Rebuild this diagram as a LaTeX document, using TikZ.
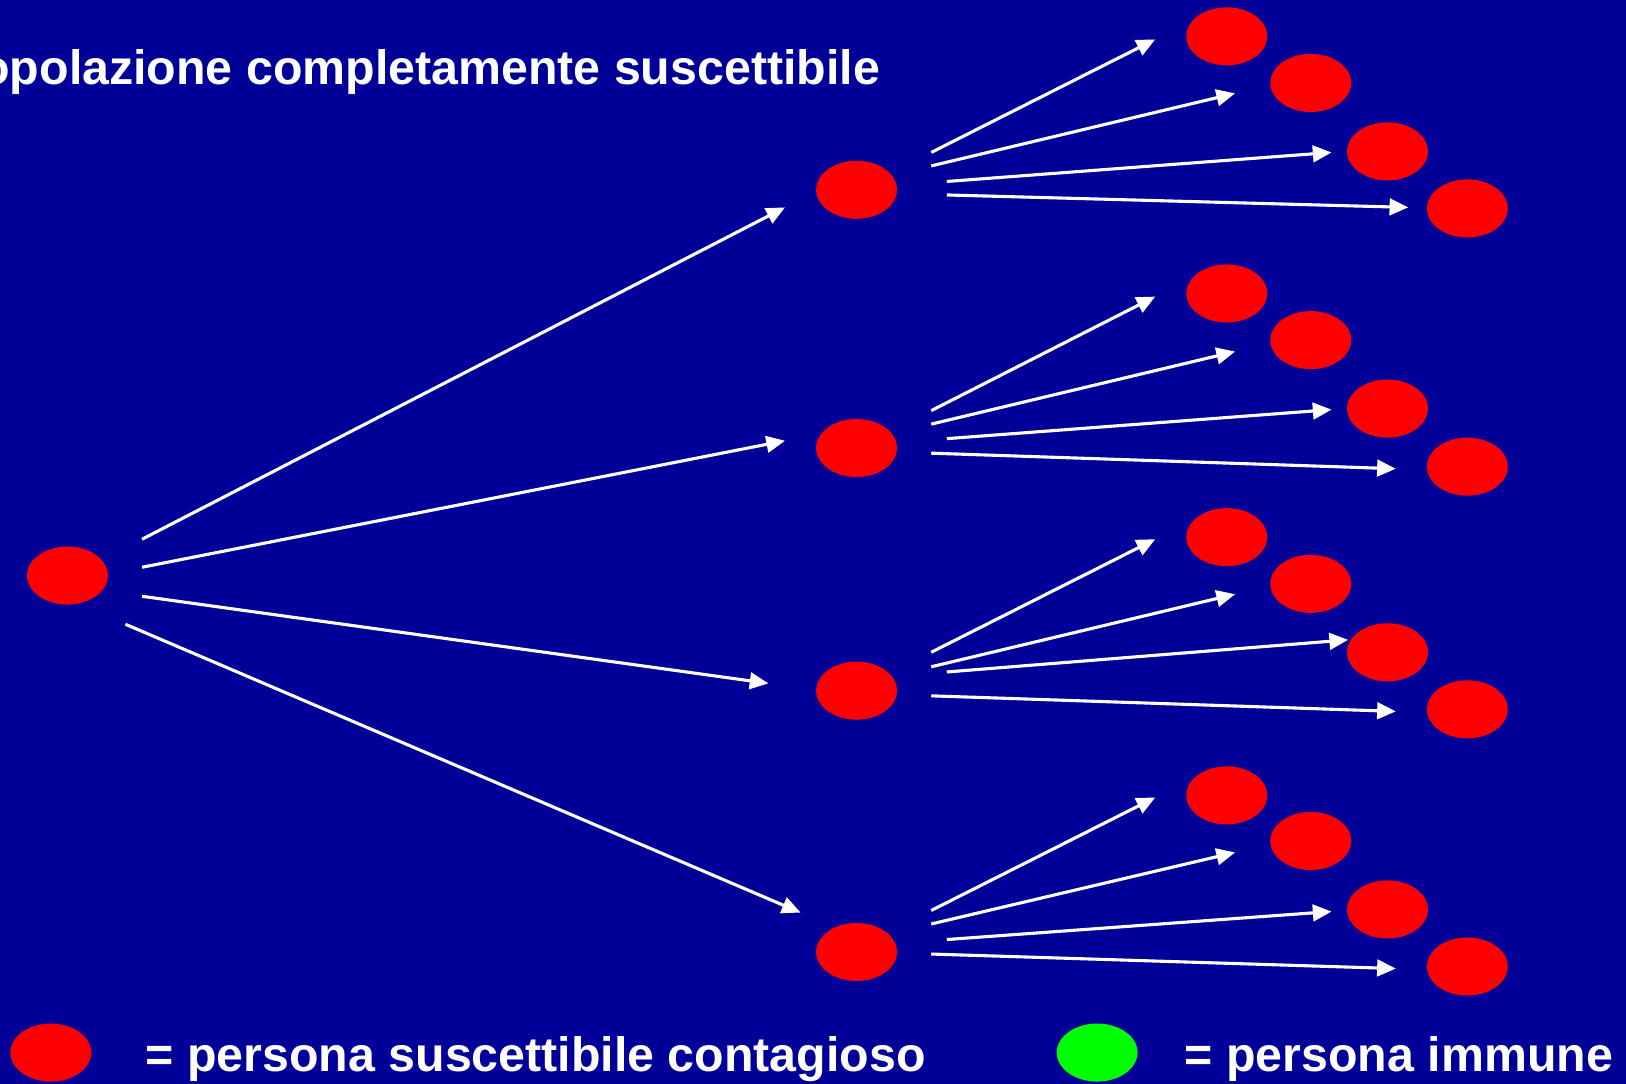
\documentclass[tikz,border=0pt]{standalone}
\usepackage{fontspec}
\setmainfont{Liberation Sans}
\usetikzlibrary{shapes.geometric,arrows.meta}
\definecolor{slideblue}{RGB}{0,0,153}
\definecolor{slidegreen}{RGB}{0,255,0}
\begin{document}
\begin{tikzpicture}[x=0.5pt,y=-0.5pt]
    \tikzstyle{person}=[ellipse,fill=red,inner sep=0pt,minimum width=39pt,minimum height=28pt]
    \tikzstyle{immune}=[person,fill=slidegreen]
    \tikzstyle{slidetext}=[text=white,font=\fontsize{23.3}{28}\selectfont\bfseries,inner sep=0pt]
    \tikzstyle{contact}=[white,line width=1.5pt,-{Triangle[length=9pt,width=8pt]}]

      \fill[slideblue] (0,0) rectangle (1568,1045);
      \useasboundingbox (0,0) rectangle (1568,1045);

      \begin{scope}
        \clip (0,0) rectangle (1568,1045);
        \node (title) at (849,81) [slidetext,anchor=base east] {popolazione completamente suscettibile};
      \end{scope}

      % generazioni di contagiati
      \node (R) at (65,555) [person] {};

      \node (A) at (826,183) [person] {};
      \node (B) at (826,432) [person] {};
      \node (C) at (826,666) [person] {};
      \node (D) at (826,918) [person] {};

      \node (A1) at (1183,35)  [person] {};
      \node (A2) at (1264,80)  [person] {};
      \node (A3) at (1338,146) [person] {};
      \node (A4) at (1415,201) [person] {};

      \node (B1) at (1183,283) [person] {};
      \node (B2) at (1264,328) [person] {};
      \node (B3) at (1338,394) [person] {};
      \node (B4) at (1415,450) [person] {};

      \node (C1) at (1183,518) [person] {};
      \node (C2) at (1264,563) [person] {};
      \node (C3) at (1338,629) [person] {};
      \node (C4) at (1415,684) [person] {};

      \node (D1) at (1183,767) [person] {};
      \node (D2) at (1264,811) [person] {};
      \node (D3) at (1338,877) [person] {};
      \node (D4) at (1415,932) [person] {};

      % estremi delle frecce
      \coordinate (RA) at (137,520);  \coordinate (AR) at (757,200);
      \coordinate (RB) at (137,547);  \coordinate (BR) at (757,425);
      \coordinate (RC) at (137,575);  \coordinate (CR) at (741,659);
      \coordinate (RD) at (121,602);  \coordinate (DR) at (772,880);

      \coordinate (AA1) at (898,147); \coordinate (A1A) at (1114,38);
      \coordinate (AA2) at (898,160); \coordinate (A2A) at (1191,90);
      \coordinate (AA3) at (913,175); \coordinate (A3A) at (1284,147);
      \coordinate (AA4) at (913,188); \coordinate (A4A) at (1358,200);

      \coordinate (BB1) at (898,396); \coordinate (B1B) at (1114,286);
      \coordinate (BB2) at (898,409); \coordinate (B2B) at (1191,339);
      \coordinate (BB3) at (913,423); \coordinate (B3B) at (1284,395);
      \coordinate (BB4) at (898,437); \coordinate (B4B) at (1346,452);

      \coordinate (CC1) at (898,629); \coordinate (C1C) at (1114,520);
      \coordinate (CC2) at (898,643); \coordinate (C2C) at (1191,573);
      \coordinate (CC3) at (913,648); \coordinate (C3C) at (1300,617);
      \coordinate (CC4) at (898,671); \coordinate (C4C) at (1346,686);

      \coordinate (DD1) at (898,878); \coordinate (D1D) at (1114,769);
      \coordinate (DD2) at (898,891); \coordinate (D2D) at (1191,822);
      \coordinate (DD3) at (913,906); \coordinate (D3D) at (1284,879);
      \coordinate (DD4) at (898,920); \coordinate (D4D) at (1346,934);

      \draw[contact] (RA) -- (AR);
      \draw[contact] (RB) -- (BR);
      \draw[contact] (RC) -- (CR);
      \draw[contact] (RD) -- (DR);

      \draw[contact] (AA1) -- (A1A);
      \draw[contact] (AA2) -- (A2A);
      \draw[contact] (AA3) -- (A3A);
      \draw[contact] (AA4) -- (A4A);

      \draw[contact] (BB1) -- (B1B);
      \draw[contact] (BB2) -- (B2B);
      \draw[contact] (BB3) -- (B3B);
      \draw[contact] (BB4) -- (B4B);

      \draw[contact] (CC1) -- (C1C);
      \draw[contact] (CC2) -- (C2C);
      \draw[contact] (CC3) -- (C3C);
      \draw[contact] (CC4) -- (C4C);

      \draw[contact] (DD1) -- (D1D);
      \draw[contact] (DD2) -- (D2D);
      \draw[contact] (DD3) -- (D3D);
      \draw[contact] (DD4) -- (D4D);

      % legenda
      \node (Lred) at (49,1015) [person] {};
      \node (Lred text) at (140,1033) [slidetext,anchor=base west] {= persona suscettibile contagioso};
      \node (Lgreen) at (1058,1015) [immune] {};
      \node (Lgreen text) at (1142,1033) [slidetext,anchor=base west] {= persona immune};
  \end{tikzpicture}
\end{document}
